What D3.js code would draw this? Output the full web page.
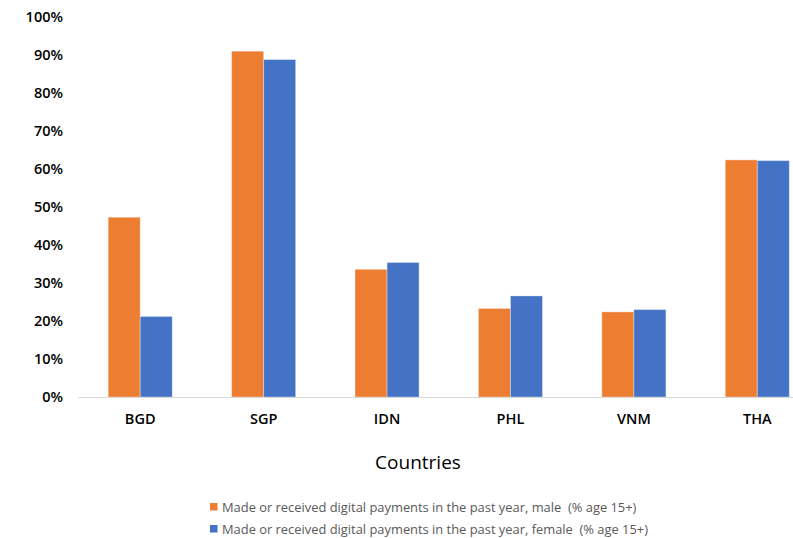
<!DOCTYPE html>
<html>
<head>
<meta charset="utf-8">
<script src="https://cdn.jsdelivr.net/npm/d3@7"></script>
<style>
  html, body { margin: 0; padding: 0; background: #fff; }
  svg { display: block; }
</style>
</head>
<body>
<svg id="chart" width="793" height="538"></svg>
<script>
// Digital payments by gender, selected Asian economies
const countries = ["BGD", "SGP", "IDN", "PHL", "VNM", "THA"];
const maleValues = [47.3, 91.0, 33.6, 23.3, 22.4, 62.4];
const femaleValues = [21.2, 88.8, 35.4, 26.6, 23.0, 62.2];
const seriesNames = [
  "Made or received digital payments in the past year, male  (% age 15+)",
  "Made or received digital payments in the past year, female  (% age 15+)"
];
const yTicks = [0, 10, 20, 30, 40, 50, 60, 70, 80, 90, 100];
const colors = ["#ED7D31", "#4472C4"];

const svg = d3.select("#chart");

const x = d3.scaleBand()
  .domain(countries)
  .range([78.5, 819])
  .paddingInner(0.481)
  .paddingOuter(0.2405);

const xSub = d3.scaleBand()
  .domain([0, 1])
  .range([0, x.bandwidth()]);

const y = d3.scaleLinear()
  .domain([0, 100])
  .range([397, 17]);

const seriesValues = [maleValues, femaleValues];

// Bars
const groups = svg.append("g")
  .selectAll("g")
  .data(countries)
  .join("g")
  .attr("transform", d => `translate(${x(d)},0)`);

groups.selectAll("rect")
  .data((d, i) => seriesValues.map((vals, s) => ({ s, v: vals[i] })))
  .join("rect")
  .attr("x", d => xSub(d.s))
  .attr("width", xSub.bandwidth())
  .attr("y", d => y(d.v))
  .attr("height", d => y(0) - y(d.v))
  .attr("fill", d => colors[d.s])
  .attr("stroke", "rgba(255,255,255,0.35)")
  .attr("stroke-width", 1);

// Baseline
svg.append("line")
  .attr("x1", 78.5).attr("x2", 793)
  .attr("y1", y(0) + 0.5).attr("y2", y(0) + 0.5)
  .attr("stroke", "#d9d9d9")
  .attr("stroke-width", 1.2);

// Y axis labels
const yAxis = d3.axisLeft(y)
  .tickValues(yTicks)
  .tickFormat(d => d + "%")
  .tickSize(0)
  .tickPadding(0);

const yG = svg.append("g")
  .attr("transform", "translate(63,0)")
  .call(yAxis);
yG.select(".domain").remove();
yG.selectAll("text")
  .attr("font-family", "'Open Sans', sans-serif")
  .attr("font-weight", 600)
  .attr("font-size", 14.5)
  .attr("fill", "#000");

// X axis labels
const xAxis = d3.axisBottom(x).tickSize(0).tickPadding(0);
const xG = svg.append("g")
  .attr("transform", `translate(0,${y(0) + 17})`)
  .call(xAxis);
xG.select(".domain").remove();
xG.selectAll("text")
  .attr("font-family", "'Open Sans', sans-serif")
  .attr("font-weight", 600)
  .attr("font-size", 14.5)
  .attr("fill", "#000");

// Axis title
svg.append("text")
  .attr("x", 418)
  .attr("y", 469)
  .attr("text-anchor", "middle")
  .attr("font-family", "'Open Sans', sans-serif")
  .attr("font-size", 19)
  .attr("fill", "#000")
  .text("Countries");

// Legend
const legend = svg.append("g");
const legendRows = legend.selectAll("g")
  .data(seriesNames)
  .join("g")
  .attr("transform", (d, i) => `translate(210,${503 + i * 22})`);

legendRows.append("rect")
  .attr("width", 7.5)
  .attr("height", 7.5)
  .attr("y", 0)
  .attr("fill", (d, i) => colors[i]);

legendRows.append("text")
  .attr("x", 12)
  .attr("y", 8.5)
  .attr("font-family", "'Open Sans', sans-serif")
  .attr("font-size", 12.9)
  .attr("fill", "#595959")
  .attr("xml:space", "preserve")
  .style("white-space", "pre")
  .text(d => d);
</script>
</body>
</html>
